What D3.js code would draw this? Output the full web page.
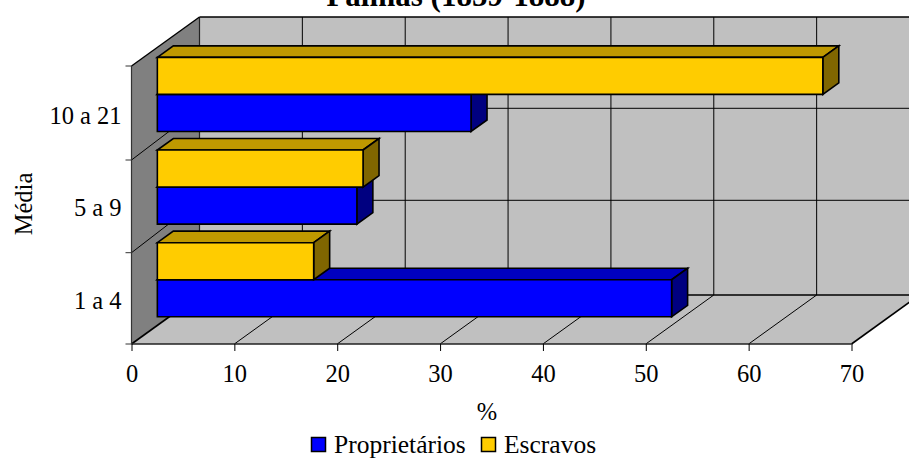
<!DOCTYPE html>
<html>
<head>
<meta charset="utf-8">
<script src="https://cdn.jsdelivr.net/npm/d3@7"></script>
<style>
html, body { margin: 0; padding: 0; background: #fff; overflow: hidden; }
svg { display: block; }
text { font-family: "Liberation Serif", serif; fill: #000; }
</style>
</head>
<body>
<div id="chart"></div>
<script>
// Distribution by holding size, Palmas 1859-1888
const categories = ["10 a 21", "5 a 9", "1 a 4"];
const seriesNames = ["Proprietários", "Escravos"];
const proprietarios = [30.5, 19.4, 50];
const escravos = [64.7, 20, 15.2];
const xTickValues = [0, 10, 20, 30, 40, 50, 60, 70];
const titleText = "Palmas (1859-1888)";
const xAxisTitle = "%";
const yAxisTitle = "Média";

const seriesValues = [proprietarios, escravos];
const faces = [
  { front: "#0000FF", top: "#0000BF", side: "#000080" },
  { front: "#FFCC00", top: "#BF9900", side: "#806600" }
];

const width = 909, height = 458;
const labelSize = 24.5;
const svg = d3.select("#chart").append("svg")
  .attr("width", width).attr("height", height);

// Oblique projection: depth 0 is the front of the floor, depth 1 the back wall
const x = d3.scaleLinear().domain([0, 70]).range([131.5, 851.5]);
const y = d3.scaleBand().domain(categories).range([66.7, 344.7]).paddingInner(0.2).paddingOuter(0.1);
const inner = d3.scaleBand().domain(d3.range(seriesNames.length).reverse()).range([0, y.bandwidth()]);
const depthX = 68, depthY = -49;
const px = (v, d) => x(v) + depthX * d;
const py = (p, d) => p + depthY * d;
const pts = list => list.map(([a, b]) => a.toFixed(2) + "," + b.toFixed(2)).join(" ");

const topY = 66, bottomY = 344;
// Category divisions on the front edge and on the back wall
const edgeIndex = d3.range(categories.length + 1);
const frontEdge = d3.scaleLinear().domain(edgeIndex).range([topY, 160, 252.7, bottomY]);
const backEdge = d3.scaleLinear().domain(edgeIndex).range([py(topY, 1), 108.3, 200.3, py(bottomY, 1)]);

// Walls and floor
const chartArea = svg.append("g");
chartArea.append("polygon")
  .attr("points", pts([[px(0, 1), py(topY, 1)], [px(70, 1) + 20, py(topY, 1)], [px(70, 1) + 20, py(bottomY, 1)], [px(0, 1), py(bottomY, 1)]]))
  .attr("fill", "#C0C0C0");
chartArea.append("polygon")
  .attr("points", pts([[px(0, 0), py(bottomY, 0)], [px(70, 0), py(bottomY, 0)], [px(70, 1), py(bottomY, 1)], [px(0, 1), py(bottomY, 1)]]))
  .attr("fill", "#C0C0C0");
chartArea.append("polygon")
  .attr("points", pts([[px(0, 0), py(topY, 0)], [px(0, 1), py(topY, 1)], [px(0, 1), py(bottomY, 1)], [px(0, 0), py(bottomY, 0)]]))
  .attr("fill", "#808080");

// Grid lines on the back wall, floor and left wall
const grid = chartArea.append("g").attr("stroke", "#000").attr("stroke-width", 1).attr("fill", "none");
xTickValues.slice(1, -1).forEach(v => {
  grid.append("line").attr("x1", px(v, 1)).attr("x2", px(v, 1)).attr("y1", py(topY, 1)).attr("y2", py(bottomY, 1));
  grid.append("line").attr("x1", px(v, 0)).attr("x2", px(v, 1)).attr("y1", py(bottomY, 0)).attr("y2", py(bottomY, 1));
});
edgeIndex.slice(1, -1).forEach(i => {
  grid.append("line").attr("x1", px(0, 1)).attr("x2", width).attr("y1", backEdge(i)).attr("y2", backEdge(i));
  grid.append("line").attr("x1", px(0, 0)).attr("x2", px(0, 1)).attr("y1", frontEdge(i)).attr("y2", backEdge(i));
});

// Frame
const frame = chartArea.append("g").attr("stroke", "#000").attr("fill", "none");
frame.append("line").attr("x1", px(0, 1)).attr("x2", width).attr("y1", py(topY, 1)).attr("y2", py(topY, 1)).attr("stroke-width", 1.6);
frame.append("line").attr("x1", px(0, 1)).attr("x2", width).attr("y1", py(bottomY, 1)).attr("y2", py(bottomY, 1)).attr("stroke-width", 1.6);
frame.append("line").attr("x1", px(0, 1)).attr("x2", px(0, 1)).attr("y1", py(topY, 1)).attr("y2", py(bottomY, 1)).attr("stroke", "#222").attr("stroke-width", 1.2);
frame.append("line").attr("x1", px(0, 0)).attr("x2", px(0, 1)).attr("y1", py(topY, 0)).attr("y2", py(topY, 1)).attr("stroke-width", 1.4);
frame.append("line").attr("x1", px(0, 0)).attr("x2", px(0, 1)).attr("y1", py(bottomY, 0)).attr("y2", py(bottomY, 1)).attr("stroke-width", 1.6);
frame.append("line").attr("x1", px(70, 0)).attr("x2", px(70, 1)).attr("y1", py(bottomY, 0)).attr("y2", py(bottomY, 1)).attr("stroke-width", 1.6);
frame.append("line").attr("x1", px(0, 0)).attr("x2", px(70, 0)).attr("y1", bottomY).attr("y2", bottomY).attr("stroke", "#222").attr("stroke-width", 1.4);
frame.append("line").attr("x1", px(0, 0)).attr("x2", px(0, 0)).attr("y1", topY).attr("y2", bottomY).attr("stroke", "#333").attr("stroke-width", 1.2);

// Bars: each is a front, top and side face placed inside the depth of the chart
const barFront = 0.38, barBack = 0.615;
const bars = svg.append("g").attr("stroke", "#000").attr("stroke-width", 1.6).attr("stroke-linejoin", "miter");
categories.forEach((cat, c) => {
  seriesNames.forEach((name, s) => {
    const v = seriesValues[s][c];
    const t = y(cat) + inner(s), b = t + inner.bandwidth();
    const g = bars.append("g").attr("class", "bar");
    g.append("polygon").attr("fill", faces[s].top).attr("points", pts([
      [px(0, barFront), py(t, barFront)], [px(v, barFront), py(t, barFront)],
      [px(v, barBack), py(t, barBack)], [px(0, barBack), py(t, barBack)]]));
    g.append("polygon").attr("fill", faces[s].side).attr("points", pts([
      [px(v, barFront), py(t, barFront)], [px(v, barBack), py(t, barBack)],
      [px(v, barBack), py(b, barBack)], [px(v, barFront), py(b, barFront)]]));
    g.append("polygon").attr("fill", faces[s].front).attr("points", pts([
      [px(0, barFront), py(t, barFront)], [px(v, barFront), py(t, barFront)],
      [px(v, barFront), py(b, barFront)], [px(0, barFront), py(b, barFront)]]));
  });
});

// Value axis along the front of the floor
const xAxis = svg.append("g").attr("transform", `translate(0,${bottomY})`)
  .call(d3.axisBottom(x).tickValues(xTickValues).tickSize(7).tickPadding(13.5).tickFormat(d3.format("d")));
xAxis.select(".domain").remove();
xAxis.selectAll("line").attr("stroke", "#000");
xAxis.selectAll("text").attr("font-size", labelSize).style("font-family", '"Liberation Serif", serif');

// Category axis on the front edge of the left wall
const catAxis = svg.append("g").attr("transform", `translate(${px(0, 0)},0)`);
edgeIndex.forEach(i => {
  catAxis.append("line").attr("x1", -6).attr("x2", 0).attr("y1", frontEdge(i)).attr("y2", frontEdge(i)).attr("stroke", "#333");
});
categories.forEach(cat => {
  catAxis.append("text").attr("x", -10).attr("y", y(cat) + y.bandwidth() / 2 + 10.5)
    .attr("text-anchor", "end").attr("font-size", labelSize).text(cat);
});

// Titles
svg.append("text").attr("x", 456).attr("y", 6).attr("text-anchor", "middle")
  .attr("font-size", 31).attr("font-weight", "bold").text(titleText);
svg.append("text").attr("x", 487).attr("y", 420).attr("text-anchor", "middle")
  .attr("font-size", labelSize).text(xAxisTitle);
svg.append("text").attr("transform", "translate(32,204) rotate(-90)").attr("text-anchor", "middle")
  .attr("font-size", labelSize).text(yAxisTitle);

// Legend
const legendItems = [{ x: 311.5, tx: 334 }, { x: 481.5, tx: 504 }];
const legend = svg.append("g");
seriesNames.forEach((name, s) => {
  legend.append("rect").attr("x", legendItems[s].x).attr("y", 437.5).attr("width", 14).attr("height", 14)
    .attr("fill", faces[s].front).attr("stroke", "#000").attr("stroke-width", 1.5);
  legend.append("text").attr("x", legendItems[s].tx).attr("y", 453).attr("font-size", 25.5).text(name);
});
</script>
</body>
</html>
